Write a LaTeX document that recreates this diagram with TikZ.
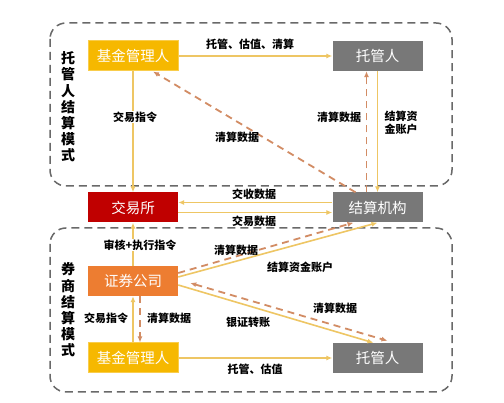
\documentclass[tikz,border=0pt]{standalone}
\usepackage{fontspec}
\newfontfamily\cjk{Noto Sans CJK SC}
\usetikzlibrary{arrows.meta}
\definecolor{goldline}{RGB}{238,198,100}
\definecolor{dashbrown}{RGB}{210,140,100}
\definecolor{boxgray}{RGB}{120,120,120}
\definecolor{fundyellow}{RGB}{246,184,0}
\definecolor{exred}{RGB}{192,0,0}
\definecolor{secorange}{RGB}{237,125,49}
\definecolor{framegray}{RGB}{105,105,105}
\tikzset{
  nodebox/.style={minimum width=90pt,minimum height=30pt,inner sep=0pt,text=white,font=\cjk\fontsize{14.5}{16}\selectfont},
  solidarrow/.style={draw=goldline,line width=1.6pt,-{Latex[length=6pt,width=5pt]}},
  dasharrow/.style={draw=dashbrown,line width=1.8pt,dash pattern=on 7pt off 5pt,-{Latex[length=6pt,width=5pt]}},
  lbl/.style={font=\cjk\bfseries\fontsize{11}{12.5}\selectfont,text=black,inner sep=1pt},
  sidelbl/.style={font=\cjk\bfseries\fontsize{14}{16.2}\selectfont,text=black,align=center,inner sep=0pt},
  frame/.style={draw=framegray,line width=1.5pt,dash pattern=on 8pt off 5pt,rounded corners=16pt}
}
\begin{document}
\begin{tikzpicture}[x=1pt,y=-1pt]
\useasboundingbox (0,0) rectangle (504,403);
\fill[white] (0,0) rectangle (504,403);
% frames
\draw[frame] (50,23) rectangle (452,186);
\draw[frame] (50,228) rectangle (452,392);
% nodes
\node[nodebox,fill=fundyellow,draw=fundyellow!70!white,line width=1pt] (fm1) at (133,56) {基金管理人};
\node[nodebox,fill=boxgray] (tg1) at (377.5,56) {托管人};
\node[nodebox,fill=exred] (ex) at (133,207.5) {交易所};
\node[nodebox,fill=boxgray] (jg) at (377.5,207.5) {结算机构};
\node[nodebox,fill=secorange] (zq) at (133,281) {证券公司};
\node[nodebox,fill=fundyellow,draw=fundyellow!70!white,line width=1pt] (fm2) at (133,358) {基金管理人};
\node[nodebox,fill=boxgray] (tg2) at (377.5,358) {托管人};
% side labels
\node[sidelbl] (s1) at (68,107) {托\\管\\人\\结\\算\\模\\式};
\node[sidelbl] (s2) at (68,310) {券\\商\\结\\算\\模\\式};
% top part connectors
\draw[solidarrow] (fm1.east) -- (tg1.west);
\draw[solidarrow] (fm1.south) -- (ex.north);
\draw[dasharrow] ([xshift=-22pt]jg.north) -- ([xshift=20pt]fm1.south);
\draw[dasharrow] ([xshift=-11pt]jg.north) -- ([xshift=-11pt]tg1.south);
\draw[solidarrow] (tg1.south) -- (jg.north);
% middle
\draw[solidarrow] ([yshift=5pt]jg.west) -- ([yshift=5pt]ex.east);
\draw[solidarrow] ([yshift=-5pt]ex.east) -- ([yshift=-5pt]jg.west);
\draw[solidarrow] (zq.north) -- (ex.south);
% bottom part
\draw[dasharrow] ([yshift=8pt]zq.east) -- ([xshift=-24pt]jg.south);
\draw[solidarrow] ([yshift=4pt]zq.east) -- (jg.south);
\draw[solidarrow] ([yshift=-4pt]zq.east) -- ([xshift=-4pt]tg2.north);
\draw[dasharrow,{Latex[length=6pt,width=5pt]}-{Latex[length=6pt,width=5pt]}] ([xshift=12pt,yshift=-2pt]zq.east) -- ([xshift=10pt,yshift=2pt]tg2.north);
\draw[solidarrow] (fm2.north) -- (zq.south);
\draw[dasharrow] ([xshift=7pt]zq.south) -- ([xshift=7pt]fm2.north);
\draw[solidarrow] (fm2.east) -- (tg2.west);
% labels
\node[lbl] (l1) at (250,44) {托管、估值、清算};
\node[lbl,fill=white] (l2) at (135,117) {交易指令};
\node[lbl] (l3) at (237,137) {清算数据};
\node[lbl] (l4) at (339,117) {清算数据};
\node[lbl,align=left] (l5) at (401,123) {结算资\\金账户};
\node[lbl] (l6) at (254,194) {交收数据};
\node[lbl] (l7) at (254,221) {交易数据};
\node[lbl,fill=white] (l8) at (140,245) {审核+执行指令};
\node[lbl] (l9) at (236,250) {清算数据};
\node[lbl] (l10) at (300,267) {结算资金账户};
\node[lbl] (l11) at (335,308) {清算数据};
\node[lbl] (l12) at (248,322) {银证转账};
\node[lbl] (l13) at (106,318) {交易指令};
\node[lbl] (l14) at (169,318) {清算数据};
\node[lbl] (l15) at (255,369) {托管、估值};
\end{tikzpicture}
\end{document}
